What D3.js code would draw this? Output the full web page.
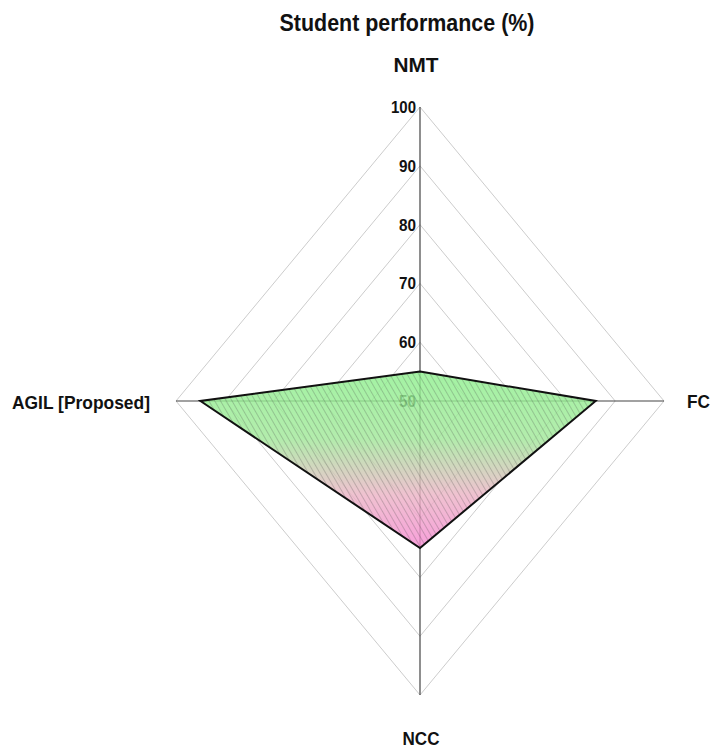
<!DOCTYPE html>
<html>
<head>
<meta charset="utf-8">
<script src="https://cdn.jsdelivr.net/npm/d3@7"></script>
<style>
  html, body { margin: 0; padding: 0; background: #fff; }
  text { font-family: "Liberation Sans", Arial, sans-serif; font-weight: bold; fill: #111; }
</style>
</head>
<body>
<svg id="chart" width="713" height="751"></svg>
<script>
const title = "Student performance (%)";
const categories = ["NMT", "FC", "NCC", "AGIL [Proposed]"];
const values = [55, 86, 75, 95];
const tickValues = [50, 60, 70, 80, 90, 100];

const W = 713, H = 751;
const cx = 420, cy = 401;
const svg = d3.select("#chart");

const rx = d3.scaleLinear().domain([50, 100]).range([0, 244]);
const ry = d3.scaleLinear().domain([50, 100]).range([0, 294]);
// directions: top, right, bottom, left
const dirs = [[0, -1], [1, 0], [0, 1], [-1, 0]];
const pt = (i, v) => [cx + dirs[i][0] * rx(v), cy + dirs[i][1] * ry(v)];

const defs = svg.append("defs");
const grad = defs.append("linearGradient").attr("id", "fillGrad")
  .attr("gradientUnits", "userSpaceOnUse")
  .attr("x1", 0).attr("x2", 0)
  .attr("y1", pt(0, values[0])[1]).attr("y2", pt(2, values[2])[1]);
[[0, "#8ff08f"], [0.38, "#a2e89a"], [0.7, "#ecb4c6"], [1, "#f68ad2"]].forEach(([o, c]) =>
  grad.append("stop").attr("offset", o).attr("stop-color", c));

const pat = defs.append("pattern").attr("id", "hatch")
  .attr("patternUnits", "userSpaceOnUse").attr("width", 5).attr("height", 10)
  .attr("patternTransform", "rotate(-30)");
pat.append("line").attr("x1", 0).attr("y1", 0).attr("x2", 0).attr("y2", 10)
  .attr("stroke", "#444").attr("stroke-opacity", 0.5).attr("stroke-width", 1);

// grid diamonds
tickValues.slice(1).forEach(t => {
  const pts = [0, 1, 2, 3].map(i => pt(i, t));
  svg.append("polygon").attr("points", pts.map(p => p.join(",")).join(" "))
    .attr("fill", "none").attr("stroke", "#cccccc").attr("stroke-width", 1);
});

// axes
[0, 1, 2, 3].forEach(i => {
  const p = pt(i, 100);
  svg.append("line").attr("x1", cx).attr("y1", cy).attr("x2", p[0]).attr("y2", p[1])
    .attr("stroke", "#444").attr("stroke-width", 1.2);
});

// tick labels via axis
const yAxisScale = d3.scaleLinear().domain([50, 100]).range([cy, cy - 294]);
const ax = svg.append("g").attr("transform", `translate(${cx - 1},0)`)
  .call(d3.axisLeft(yAxisScale).tickValues(tickValues).tickSize(0).tickPadding(3));
ax.select(".domain").remove();
ax.selectAll("text").attr("font-size", 17).attr("font-family", "Liberation Sans, Arial, sans-serif")
  .attr("font-weight", "bold").attr("fill", "#111")
  .attr("textLength", d => d === 100 ? 25 : 17).attr("lengthAdjust", "spacingAndGlyphs");

// data polygon
const dataPts = values.map((v, i) => pt(i, v));
const poly = dataPts.map(p => p.join(",")).join(" ");
svg.append("polygon").attr("points", poly).attr("fill", "url(#fillGrad)").attr("fill-opacity", 0.82);
svg.append("polygon").attr("points", poly).attr("fill", "url(#hatch)");
svg.append("polygon").attr("points", poly).attr("fill", "none")
  .attr("stroke", "#111").attr("stroke-width", 2).attr("stroke-linejoin", "miter");

// category labels
const labelPos = [
  { x: 416, y: 72, anchor: "middle", size: 20, len: 45 },
  { x: 687, y: 408, anchor: "start", size: 18, len: 23 },
  { x: 421, y: 745, anchor: "middle", size: 18, len: 37 },
  { x: 150, y: 409, anchor: "end", size: 18, len: 138 }
];
categories.forEach((c, i) => {
  svg.append("text").attr("x", labelPos[i].x).attr("y", labelPos[i].y)
    .attr("text-anchor", labelPos[i].anchor).attr("font-size", labelPos[i].size)
    .attr("textLength", labelPos[i].len).attr("lengthAdjust", "spacingAndGlyphs").text(c);
});

svg.append("text").attr("x", 407).attr("y", 31).attr("text-anchor", "middle")
  .attr("font-size", 23).attr("textLength", 255).attr("lengthAdjust", "spacingAndGlyphs").text(title);
</script>
</body>
</html>
